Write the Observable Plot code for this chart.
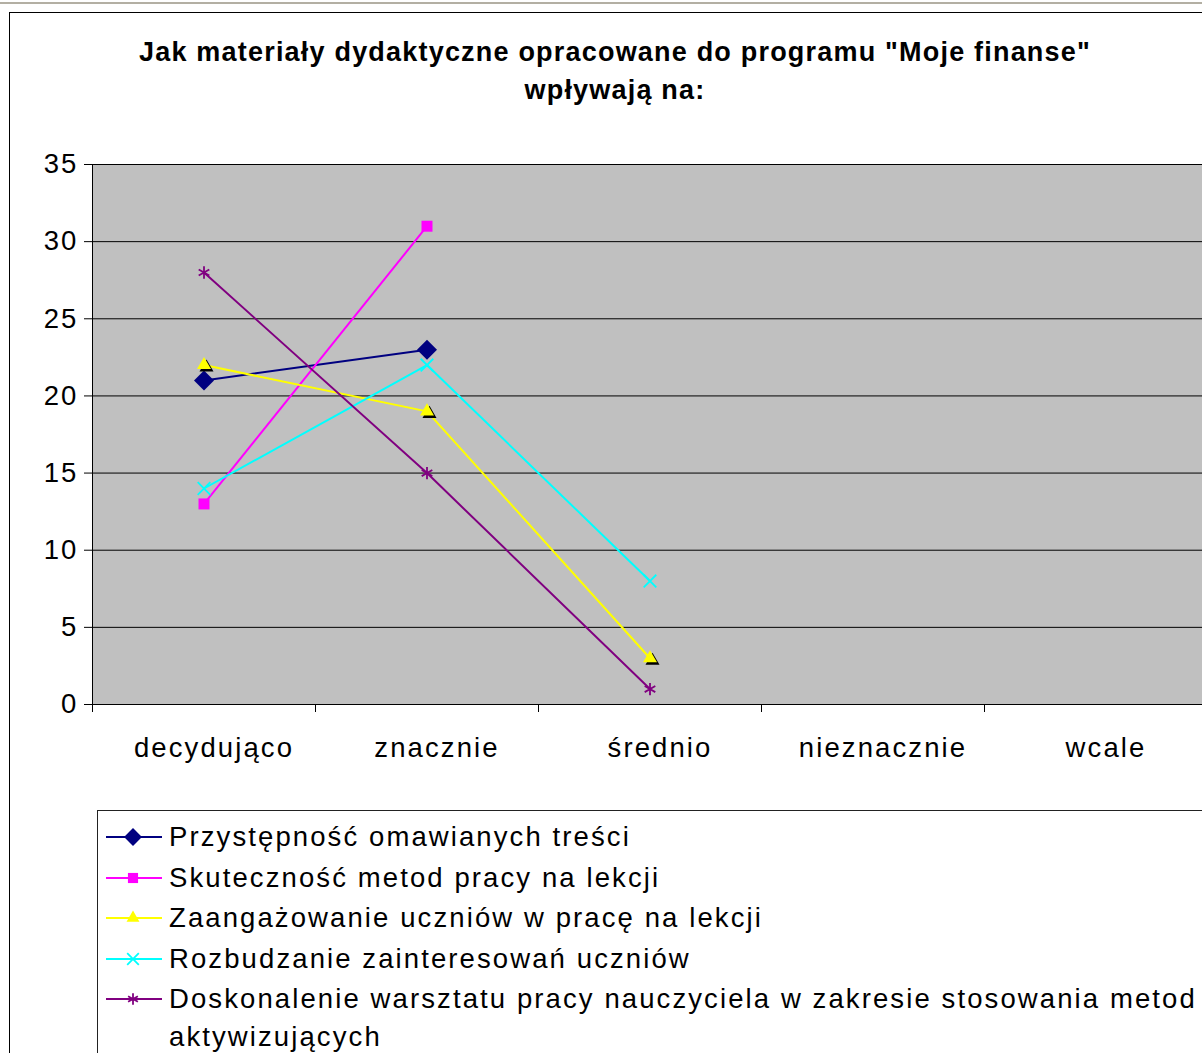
<!DOCTYPE html>
<html><head><meta charset="utf-8">
<script src="https://cdn.jsdelivr.net/npm/d3@7"></script>
<script src="https://cdn.jsdelivr.net/npm/@observablehq/plot@0.6"></script>
<style>
html,body{margin:0;padding:0;background:#fff;}
#root{position:relative;width:1202px;height:1053px;overflow:hidden;background:#fff;font-family:"Liberation Sans",Arial,sans-serif;color:#000;}
#topline{position:absolute;left:0;top:2px;width:1202px;height:2px;background:#b3afa3;}
#frame{position:absolute;left:9px;top:12px;width:1240px;height:1100px;border:1px solid #000;box-sizing:border-box;}
#title{position:absolute;left:9px;width:1212px;top:33px;text-align:center;font-weight:bold;font-size:27px;letter-spacing:1.2px;line-height:38px;}
#chart{position:absolute;left:0;top:130px;}
#chart svg text{letter-spacing:2.1px;}
#legend{position:absolute;left:97px;top:810px;width:1200px;height:400px;border:1px solid #222;box-sizing:border-box;padding-top:6px;}
.row{position:relative;display:flex;align-items:flex-start;padding:1.25px 0;}
.row svg{flex:none;margin-left:8px;}
.row .lab{margin-left:7px;font-size:27.5px;letter-spacing:2.1px;line-height:38px;width:1045px;}
</style></head>
<body>
<div id="root">
  <div id="topline"></div>
  <div id="frame"></div>
  <div id="title">Jak materiały dydaktyczne opracowane do programu "Moje finanse"<br>wpływają na:</div>
  <div id="chart"></div>
  <div id="legend"></div>
</div>
<script>
const categories = ["decydująco", "znacznie", "średnio", "nieznacznie", "wcale"];
const seriesNames = [
  "Przystępność omawianych treści",
  "Skuteczność metod pracy na lekcji",
  "Zaangażowanie uczniów w pracę na lekcji",
  "Rozbudzanie zainteresowań uczniów",
  "Doskonalenie warsztatu pracy nauczyciela w zakresie stosowania metod aktywizujących"
];
const przystepnosc = [21, 23, null, null, null];
const skutecznosc = [13, 31, null, null, null];
const zaangazowanie = [22, 19, 3, null, null];
const rozbudzanie = [14, 22, 8, null, null];
const doskonalenie = [28, 15, 1, null, null];
const yTicks = [0, 5, 10, 15, 20, 25, 30, 35];
const colors = ["#000080", "#FF00FF", "#FFFF00", "#00FFFF", "#800080"];
const symbols = ["diamond2", "square", "triangle", "times", "asterisk"];
const symbolR = [9, 6.2, 5.2, 5.8, 5.8];
const filled = [true, true, true, false, false];

const allValues = [przystepnosc, skutecznosc, zaangazowanie, rozbudzanie, doskonalenie];
const rows = [];
allValues.forEach((vals, s) => vals.forEach((v, i) => {
  if (v != null) rows.push({series: seriesNames[s], cat: categories[i], xi: categories.indexOf(categories[i]) + 0.5, value: v});
}));

const marks = [
  Plot.frame({fill: "#C0C0C0", stroke: "none"}),
  Plot.ruleY(yTicks, {stroke: "#000", strokeWidth: 1}),
  Plot.ruleX([0], {stroke: "#000", strokeWidth: 1}),
  Plot.axisY(yTicks, {label: null, tickSize: 8, tickPadding: 6, fontSize: 27.5, tickFormat: d => String(d)}),
  Plot.axisX(d3.range(0, categories.length + 1), {label: null, tickSize: 8, tickFormat: () => "", stroke: "#000"}),
  Plot.axisX(categories.map((c, i) => i + 0.5), {label: null, tickSize: 0, tickPadding: 33, dx: 10, fontSize: 27.5, tickFormat: d => categories[Math.round(d - 0.5)]}),
  Plot.lineY(rows, {x: "xi", y: "value", z: "series", stroke: "series", strokeWidth: 2})
];
seriesNames.forEach((name, s) => {
  const data = rows.filter(r => r.series === name);
  if (symbols[s] === "triangle") {
    marks.push(Plot.dot(data, {x: "xi", y: "value", symbol: () => "triangle", r: symbolR[s], fill: "#000", stroke: "none", dx: 2.5, dy: 2.5}));
  }
  if (filled[s]) {
    marks.push(Plot.dot(data, {x: "xi", y: "value", symbol: () => symbols[s], r: symbolR[s], fill: colors[s], stroke: "none"}));
  } else {
    marks.push(Plot.dot(data, {x: "xi", y: "value", symbol: () => symbols[s], r: symbolR[s], stroke: colors[s], fill: "none", strokeWidth: 1.8}));
  }
});

const chart = Plot.plot({
  width: 1230,
  height: 640,
  marginLeft: 92,
  marginRight: 23,
  marginTop: 34,
  marginBottom: 66,
  style: {fontSize: "27.5px", fontFamily: "'Liberation Sans', Arial, sans-serif", background: "transparent", maxWidth: "none", overflow: "visible", color: "#000"},
  x: {domain: [0, categories.length], axis: null},
  y: {domain: [0, 35], axis: null},
  color: {domain: seriesNames, range: colors},
  symbol: {domain: symbols, range: symbols},
  marks
});
document.getElementById("chart").appendChild(chart);

// legend
const legend = document.getElementById("legend");
const symMap = {diamond2: d3.symbolDiamond2, square: d3.symbolSquare, triangle: d3.symbolTriangle, times: d3.symbolTimes, asterisk: d3.symbolAsterisk};
seriesNames.forEach((name, s) => {
  const row = document.createElement("div");
  row.className = "row";
  const svg = d3.create("svg").attr("width", 56).attr("height", 38);
  svg.append("line").attr("x1", 0).attr("x2", 56).attr("y1", 19).attr("y2", 19).attr("stroke", colors[s]).attr("stroke-width", 2);
  const size = Math.PI * symbolR[s] * symbolR[s] * (s === 0 ? 0.8 : 0.85);
  const p = svg.append("path").attr("transform", "translate(27,19)").attr("d", d3.symbol(symMap[symbols[s]], size)());
  if (filled[s]) p.attr("fill", colors[s]); else p.attr("fill", "none").attr("stroke", colors[s]).attr("stroke-width", 1.8);
  row.appendChild(svg.node());
  const lab = document.createElement("div");
  lab.className = "lab";
  lab.textContent = name;
  row.appendChild(lab);
  legend.appendChild(row);
});
</script>
</body></html>
